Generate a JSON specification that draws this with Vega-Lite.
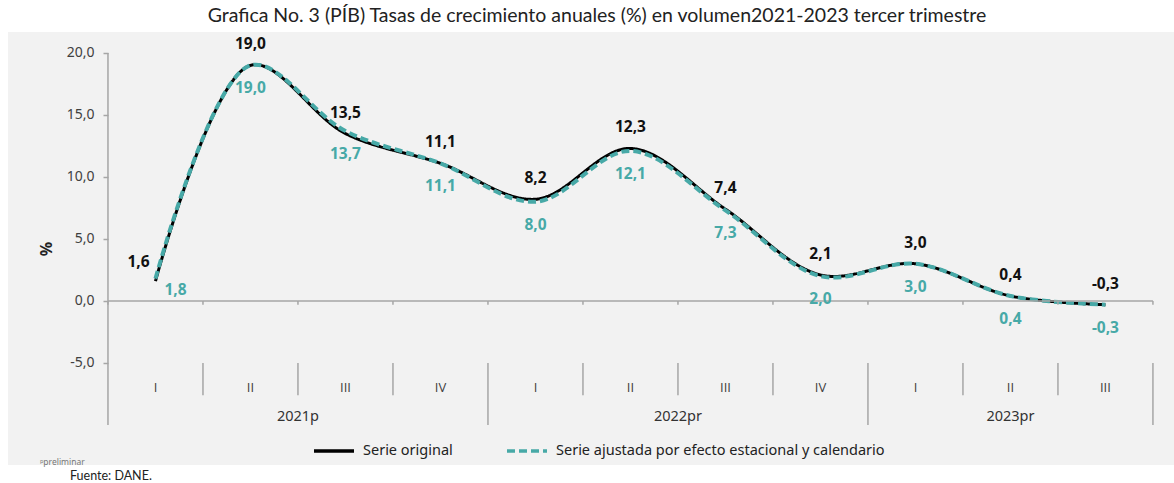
{
  "$schema": "https://vega.github.io/schema/vega-lite/v6.json",
  "width": 1166,
  "height": 433,
  "autosize": {"type": "none"},
  "padding": {"left": 8, "top": 32, "right": 0, "bottom": 18},
  "background": "#ffffff",
  "title": {"text": "Grafica No. 3 (PÍB) Tasas de crecimiento anuales (%) en volumen2021-2023 tercer trimestre", "font": "Lato", "fontSize": 19.5, "fontWeight": "normal", "color": "#222222", "anchor": "middle", "offset": 6, "dx": 6},
  "config": {
    "font": "Noto Sans",
    "view": {"fill": "#f2f2f2", "stroke": null},
    "locale": {"number": {"decimal": ",", "thousands": ".", "grouping": [3], "currency": ["$", ""], "minus": "-"}}
  },
  "data": {"values": [
    {"key": "2021-I", "year": "2021p", "q": "I", "series": "Serie original", "value": 1.6},
    {"key": "2021-II", "year": "2021p", "q": "II", "series": "Serie original", "value": 19.0},
    {"key": "2021-III", "year": "2021p", "q": "III", "series": "Serie original", "value": 13.5},
    {"key": "2021-IV", "year": "2021p", "q": "IV", "series": "Serie original", "value": 11.1},
    {"key": "2022-I", "year": "2022pr", "q": "I", "series": "Serie original", "value": 8.2},
    {"key": "2022-II", "year": "2022pr", "q": "II", "series": "Serie original", "value": 12.3},
    {"key": "2022-III", "year": "2022pr", "q": "III", "series": "Serie original", "value": 7.4},
    {"key": "2022-IV", "year": "2022pr", "q": "IV", "series": "Serie original", "value": 2.1},
    {"key": "2023-I", "year": "2023pr", "q": "I", "series": "Serie original", "value": 3.0},
    {"key": "2023-II", "year": "2023pr", "q": "II", "series": "Serie original", "value": 0.4},
    {"key": "2023-III", "year": "2023pr", "q": "III", "series": "Serie original", "value": -0.3},
    {"key": "2021-I", "year": "2021p", "q": "I", "series": "Serie ajustada por efecto estacional y calendario", "value": 1.8},
    {"key": "2021-II", "year": "2021p", "q": "II", "series": "Serie ajustada por efecto estacional y calendario", "value": 19.0},
    {"key": "2021-III", "year": "2021p", "q": "III", "series": "Serie ajustada por efecto estacional y calendario", "value": 13.7},
    {"key": "2021-IV", "year": "2021p", "q": "IV", "series": "Serie ajustada por efecto estacional y calendario", "value": 11.1},
    {"key": "2022-I", "year": "2022pr", "q": "I", "series": "Serie ajustada por efecto estacional y calendario", "value": 8.0},
    {"key": "2022-II", "year": "2022pr", "q": "II", "series": "Serie ajustada por efecto estacional y calendario", "value": 12.1},
    {"key": "2022-III", "year": "2022pr", "q": "III", "series": "Serie ajustada por efecto estacional y calendario", "value": 7.3},
    {"key": "2022-IV", "year": "2022pr", "q": "IV", "series": "Serie ajustada por efecto estacional y calendario", "value": 2.0},
    {"key": "2023-I", "year": "2023pr", "q": "I", "series": "Serie ajustada por efecto estacional y calendario", "value": 3.0},
    {"key": "2023-II", "year": "2023pr", "q": "II", "series": "Serie ajustada por efecto estacional y calendario", "value": 0.4},
    {"key": "2023-III", "year": "2023pr", "q": "III", "series": "Serie ajustada por efecto estacional y calendario", "value": -0.3}
  ]},
  "layer": [
    {
      "transform": [{"filter": "datum.series == 'Serie original'"}],
      "mark": {"type": "line", "interpolate": "catmull-rom", "strokeWidth": 3},
      "encoding": {
        "x": {"field": "key", "type": "ordinal", "bandPosition": 0.5,
          "scale": {"type": "band", "domain": ["2021-I","2021-II","2021-III","2021-IV","2022-I","2022-II","2022-III","2022-IV","2023-I","2023-II","2023-III"], "paddingInner": 0, "paddingOuter": 0.637, "align": 0.826},
          "axis": null},
        "y": {"field": "value", "type": "quantitative",
          "scale": {"domain": [-13.23, 21.69], "nice": false, "zero": false},
          "axis": {"title": "%", "titleFontWeight": "bold", "titleFontSize": 16, "titleColor": "#222222", "titlePadding": 12,
            "values": [-5, 0, 5, 10, 15, 20], "format": ".1f", "domain": false, "grid": false,
            "tickSize": 5, "tickColor": "#a6a6a6", "tickWidth": 1.5, "labelFontSize": 14, "labelColor": "#404040", "labelPadding": 9, "offset": -100}},
        "color": {"field": "series", "type": "nominal",
          "scale": {"domain": ["Serie original", "Serie ajustada por efecto estacional y calendario"], "range": ["#000000", "#47a9a7"]},
          "legend": {"title": null, "orient": "none", "direction": "horizontal", "legendX": 304, "legendY": 397,
            "symbolType": "stroke", "symbolSize": 1600, "symbolStrokeWidth": 3.5, "labelFontSize": 14.5, "labelColor": "#222222",
            "columnPadding": 47, "labelOffset": 7, "labelLimit": 0}},
        "strokeDash": {"field": "series", "type": "nominal",
          "scale": {"domain": ["Serie original", "Serie ajustada por efecto estacional y calendario"], "range": [[1, 0], [8, 4]]},
          "legend": {"title": null, "orient": "none", "direction": "horizontal", "legendX": 304, "legendY": 397,
            "symbolType": "stroke", "symbolSize": 1600, "symbolStrokeWidth": 3.5, "labelFontSize": 14.5, "labelColor": "#222222",
            "columnPadding": 47, "labelOffset": 7, "labelLimit": 0}}
      }
    },
    {
      "transform": [{"filter": "datum.series != 'Serie original'"}],
      "mark": {"type": "line", "interpolate": "catmull-rom", "strokeWidth": 4},
      "encoding": {
        "x": {"field": "key", "type": "ordinal", "bandPosition": 0.5},
        "y": {"field": "value", "type": "quantitative"},
        "color": {"field": "series", "type": "nominal"},
        "strokeDash": {"field": "series", "type": "nominal"}
      }
    },
    {
      "transform": [{"filter": "datum.series == 'Serie original'"}],
      "mark": {"type": "rule", "color": "#a6a6a6", "strokeWidth": 1.5},
      "encoding": {
        "x": {"field": "key", "type": "ordinal", "bandPosition": 0},
        "y": {"datum": 0, "type": "quantitative"},
        "y2": {"datum": -0.3}
      }
    },
    {
      "transform": [{"filter": "datum.key == '2021-I' && datum.series == 'Serie original'"}],
      "mark": {"type": "rule", "color": "#a6a6a6", "strokeWidth": 1.5},
      "encoding": {
        "x": {"field": "key", "type": "ordinal", "bandPosition": 0},
        "y": {"datum": 20, "type": "quantitative"},
        "y2": {"datum": -10}
      }
    },
    {
      "transform": [{"filter": "datum.series == 'Serie original'"}],
      "mark": {"type": "bar", "fill": null, "stroke": "#a6a6a6", "strokeWidth": 1.5},
      "encoding": {
        "x": {"field": "key", "type": "ordinal"},
        "y": {"datum": 0, "type": "quantitative"},
        "y2": {"datum": 0}
      }
    },
    {
      "transform": [{"filter": "datum.key == '2023-III' && datum.series == 'Serie original'"}],
      "mark": {"type": "rule", "color": "#a6a6a6", "strokeWidth": 1.5},
      "encoding": {
        "x": {"field": "key", "type": "ordinal", "bandPosition": 1},
        "y": {"datum": 0, "type": "quantitative"},
        "y2": {"datum": -0.3}
      }
    },
    {
      "transform": [{"filter": "datum.key == '2023-III' && datum.series == 'Serie original'"}],
      "mark": {"type": "rule", "color": "#a6a6a6", "strokeWidth": 1.5},
      "encoding": {
        "x": {"field": "key", "type": "ordinal", "bandPosition": 1},
        "y": {"datum": -5, "type": "quantitative"},
        "y2": {"datum": -10}
      }
    },
    {
      "transform": [{"filter": "datum.series == 'Serie original' && datum.q != 'I'"}],
      "mark": {"type": "rule", "color": "#a6a6a6", "strokeWidth": 1.5},
      "encoding": {
        "x": {"field": "key", "type": "ordinal", "bandPosition": 0},
        "y": {"datum": -5, "type": "quantitative"},
        "y2": {"datum": -7.6}
      }
    },
    {
      "transform": [{"filter": "datum.series == 'Serie original' && datum.q == 'I' && datum.key != '2021-I'"}],
      "mark": {"type": "rule", "color": "#a6a6a6", "strokeWidth": 1.5},
      "encoding": {
        "x": {"field": "key", "type": "ordinal", "bandPosition": 0},
        "y": {"datum": -5, "type": "quantitative"},
        "y2": {"datum": -10}
      }
    },
    {
      "transform": [{"filter": "datum.series == 'Serie original'"}],
      "mark": {"type": "text", "fontSize": 13, "font": "Open Sans", "color": "#404040", "baseline": "middle"},
      "encoding": {
        "x": {"field": "key", "type": "ordinal", "bandPosition": 0.5},
        "y": {"datum": -7.0, "type": "quantitative"},
        "text": {"field": "q"}
      }
    },
    {
      "transform": [{"filter": "datum.series == 'Serie original' && datum.q == 'III' && datum.year != '2023pr'"}],
      "mark": {"type": "text", "fontSize": 14.5, "color": "#333333", "baseline": "middle"},
      "encoding": {
        "x": {"field": "key", "type": "ordinal", "bandPosition": 0},
        "y": {"datum": -9.35, "type": "quantitative"},
        "text": {"field": "year"}
      }
    },
    {
      "transform": [{"filter": "datum.series == 'Serie original' && datum.key == '2023-II'"}],
      "mark": {"type": "text", "fontSize": 14.5, "color": "#333333", "baseline": "middle"},
      "encoding": {
        "x": {"field": "key", "type": "ordinal", "bandPosition": 0.5},
        "y": {"datum": -9.35, "type": "quantitative"},
        "text": {"field": "year"}
      }
    },
    {
      "transform": [{"filter": "datum.series == 'Serie original' && datum.key != '2021-I'"}],
      "mark": {"type": "text", "fontSize": 15.5, "fontWeight": "bold", "color": "#111111", "baseline": "middle", "dy": -21},
      "encoding": {
        "x": {"field": "key", "type": "ordinal", "bandPosition": 0.5},
        "y": {"field": "value", "type": "quantitative"},
        "text": {"field": "value", "type": "quantitative", "format": ".1f"}
      }
    },
    {
      "transform": [{"filter": "datum.series == 'Serie original' && datum.key == '2021-I'"}],
      "mark": {"type": "text", "fontSize": 15.5, "fontWeight": "bold", "color": "#111111", "baseline": "middle", "dy": -19, "dx": -17},
      "encoding": {
        "x": {"field": "key", "type": "ordinal", "bandPosition": 0.5},
        "y": {"field": "value", "type": "quantitative"},
        "text": {"field": "value", "type": "quantitative", "format": ".1f"}
      }
    },
    {
      "transform": [{"filter": "datum.series != 'Serie original' && datum.key != '2021-I'"}],
      "mark": {"type": "text", "fontSize": 15.5, "fontWeight": "bold", "color": "#47a9a7", "baseline": "middle", "dy": 23},
      "encoding": {
        "x": {"field": "key", "type": "ordinal", "bandPosition": 0.5},
        "y": {"field": "value", "type": "quantitative"},
        "text": {"field": "value", "type": "quantitative", "format": ".1f"}
      }
    },
    {
      "transform": [{"filter": "datum.series != 'Serie original' && datum.key == '2021-I'"}],
      "mark": {"type": "text", "fontSize": 15.5, "fontWeight": "bold", "color": "#47a9a7", "baseline": "middle", "dy": 11, "dx": 20},
      "encoding": {
        "x": {"field": "key", "type": "ordinal", "bandPosition": 0.5},
        "y": {"field": "value", "type": "quantitative"},
        "text": {"field": "value", "type": "quantitative", "format": ".1f"}
      }
    },
    {
      "transform": [{"filter": "datum.series == 'Serie original' && datum.key == '2021-I'"}],
      "mark": {"type": "text", "fontSize": 12.5, "font": "Lato", "color": "#222222", "baseline": "middle", "align": "left", "dx": -38},
      "encoding": {
        "x": {"field": "key", "type": "ordinal", "bandPosition": 0},
        "y": {"datum": -14.1, "type": "quantitative"},
        "text": {"value": "Fuente: DANE."}
      }
    },
    {
      "transform": [{"filter": "datum.series == 'Serie original' && datum.key == '2021-I'"}],
      "mark": {"type": "text", "fontSize": 8.5, "color": "#777777", "baseline": "middle", "align": "left", "dx": -68},
      "encoding": {
        "x": {"field": "key", "type": "ordinal", "bandPosition": 0},
        "y": {"datum": -13.0, "type": "quantitative"},
        "text": {"value": "ᵖpreliminar"}
      }
    }
  ]
}
